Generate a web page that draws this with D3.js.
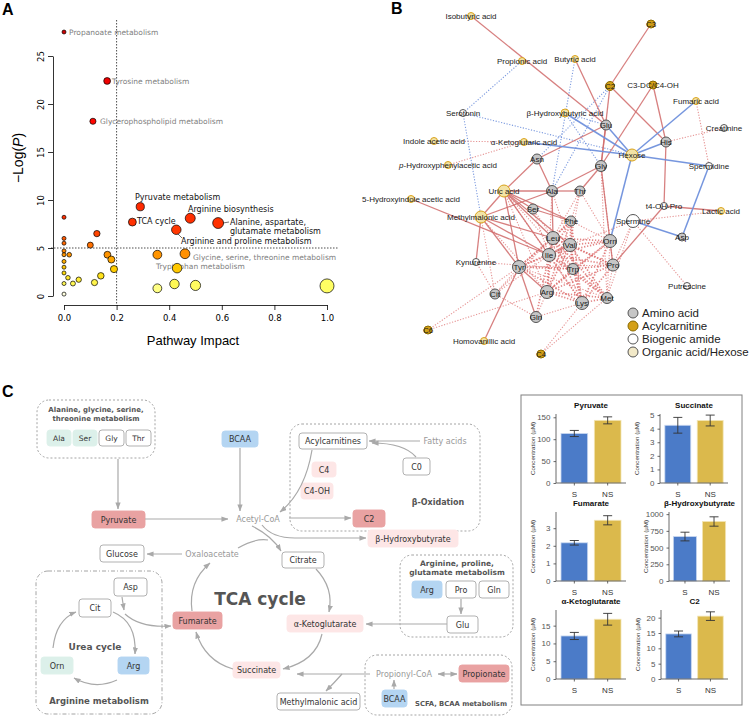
<!DOCTYPE html>
<html><head><meta charset="utf-8">
<script src="https://cdn.jsdelivr.net/npm/d3@7"></script>
<style>body{margin:0;background:#fff}svg{display:block}</style>
</head><body>
<svg id="fig" width="750" height="717" xmlns="http://www.w3.org/2000/svg"></svg>
<script>
// ================= DATA =================
// Panel A: pathway analysis
const pathwayNames = ["Propanoate metabolism","Tyrosine metabolism","Glycerophospholipid metabolism","Pyruvate metabolism","TCA cycle","Arginine biosynthesis","Arginine and proline metabolism","Alanine, aspartate, glutamate metabolism","Glycine, serine, threonine metabolism","Tryptophan metabolism","p11","p12","p13","p14","p15","p16","p17","p18","p19","p20","p21","p22","p23","p24","p25","p26","p27","p28","p29","p30","p31","p32","p33","p34","p35","p36"];
const pathwayImpact = [0,0.164,0.11,0.29,0.26,0.48,0.427,0.586,0.46,0.43,0.355,0.355,0.42,0.5,1.0,0,0,0,0,0,0,0,0,0,0,0.125,0.1,0.02,0.165,0.18,0.19,0.14,0.116,0.056,0.034,0.015];
const pathwayNegLogP = [27.5,22.4,18.2,9.3,7.7,8.1,6.9,7.6,4.4,2.9,4.3,0.8,1.25,1.1,1.05,8.2,6.0,5.5,4.7,4.3,3.6,3.0,2.4,1.3,0.2,6.5,5.3,4.3,4.3,3.8,2.8,2.1,1.4,1.7,1.3,1.9];
const aYTicks = [0,5,10,15,20,25];
const aXTicks = [0,0.2,0.4,0.6,0.8,1.0];
const impactCut = 0.2, negLogPCut = 5;

// Panel B: correlation network
const metaboliteNames = ["Isobutyric acid","C3","Propionic acid","Butyric acid","C2","C3-DC/C4-OH","Fumaric acid","β-Hydroxybutyric acid","Serotonin","Glu","Creatinine","Indole acetic acid","α-Ketoglutaric acid","His","Hexose","Asn","p-Hydroxyphenylacetic acid","Gly","Spermidine","Uric acid","Ala","Thr","5-Hydroxyindole acetic acid","t4-OH-Pro","Ser","Lactic acid","Methylmalonic acid","Phe","Spermine","Asp","Leu","Orn","Val","Ile","Kynurenine","Pro","Tyr","Trp","Putrescine","Arg","Cit","Met","Lys","Gln","C6","Homovanillic acid","C4"];
const metaboliteClass = ["org","acyl","org","org","acyl","acyl","org","org","bio","aa","bio","org","org","aa","org","aa","org","aa","bio","org","aa","aa","org","bio","aa","org","org","aa","bio","aa","aa","aa","aa","aa","bio","aa","aa","aa","bio","aa","aa","aa","aa","aa","acyl","org","acyl"];
const legendClasses = ["Amino acid","Acylcarnitine","Biogenic amide","Organic acid/Hexose"];
const positiveStrong = [["Isobutyric acid","Glu"],["C3","C2"],["Butyric acid","Glu"],["C2","His"],["C2","Gly"],["C3-DC/C4-OH","Gly"],["C3-DC/C4-OH","His"],["Glu","Asn"],["Glu","Gly"],["Asn","Ala"],["Asn","Uric acid"],["Gly","Ala"],["Gly","Thr"],["Gly","Orn"],["Uric acid","Ala"],["Uric acid","Ser"],["Uric acid","Leu"],["Uric acid","Ile"],["Uric acid","Tyr"],["Uric acid","Phe"],["Uric acid","Val"],["Uric acid","Methylmalonic acid"],["Methylmalonic acid","Kynurenine"],["Methylmalonic acid","Tyr"],["Methylmalonic acid","Leu"],["Methylmalonic acid","Ile"],["Methylmalonic acid","Ala"],["5-Hydroxyindole acetic acid","Ile"],["Tyr","Gln"],["Tyr","Arg"],["Homovanillic acid","Tyr"],["His","t4-OH-Pro"],["t4-OH-Pro","Lactic acid"],["Pro","t4-OH-Pro"],["Ala","Thr"],["Ser","Phe"],["Orn","Pro"],["Leu","Ile"],["Val","Ile"],["Ala","Leu"]];
const negativeStrong = [["β-Hydroxybutyric acid","Hexose"],["α-Ketoglutaric acid","Hexose"],["Fumaric acid","Hexose"],["His","Hexose"],["Glu","Hexose"],["Hexose","Spermidine"],["Hexose","Orn"],["Spermine","Asp"],["Spermidine","Asp"]];
const negativeWeak = [["Serotonin","Propionic acid"],["Serotonin","Methylmalonic acid"],["Serotonin","Hexose"],["β-Hydroxybutyric acid","Gly"],["β-Hydroxybutyric acid","Glu"],["C2","Ala"],["Butyric acid","Ala"],["C2","Asn"]];
const positiveWeak = [["Indole acetic acid","α-Ketoglutaric acid"],["p-Hydroxyphenylacetic acid","α-Ketoglutaric acid"],["Fumaric acid","Spermidine"],["Creatinine","His"],["Putrescine","Spermine"],["Kynurenine","Trp"],["Kynurenine","Cit"],["C6","Arg"],["C6","Tyr"],["C4","Lys"],["C4","Met"],["Cit","Ile"],["Cit","Leu"],["Gln","Arg"],["Gln","Lys"],["Thr","Leu"],["Thr","Val"],["Thr","Phe"],["Thr","Orn"],["Ala","Val"],["Ala","Ile"],["Ser","Leu"],["Ser","Ile"],["Uric acid","Arg"],["Uric acid","Trp"],["Uric acid","Lys"],["Methylmalonic acid","Arg"],["Methylmalonic acid","Cit"],["Spermine","Pro"],["Spermine","Met"],["Spermine","Val"],["Gly","Pro"],["Gly","Met"],["Lactic acid","Spermine"],["Cit","Gln"],["Tyr","Cit"],["Phe","Orn"],["Orn","Met"],["Pro","Met"],["Tyr","Met"],["Tyr","Pro"]];
const positiveWeakCore = [["Leu","Val"],["Leu","Phe"],["Leu","Trp"],["Leu","Arg"],["Leu","Lys"],["Leu","Met"],["Leu","Pro"],["Leu","Orn"],["Leu","Tyr"],["Ile","Trp"],["Ile","Arg"],["Ile","Lys"],["Ile","Met"],["Ile","Pro"],["Ile","Orn"],["Ile","Phe"],["Ile","Tyr"],["Ile","Gln"],["Val","Trp"],["Val","Arg"],["Val","Lys"],["Val","Met"],["Val","Pro"],["Val","Orn"],["Val","Phe"],["Val","Tyr"],["Phe","Trp"],["Phe","Tyr"],["Phe","Arg"],["Phe","Lys"],["Trp","Arg"],["Trp","Lys"],["Trp","Met"],["Trp","Pro"],["Trp","Tyr"],["Trp","Orn"],["Arg","Lys"],["Arg","Met"],["Arg","Pro"],["Arg","Orn"],["Lys","Met"],["Lys","Pro"],["Lys","Orn"],["Tyr","Lys"]];

// Panel C bar charts
const barMetabolites = ["Pyruvate","Succinate","Fumarate","β-Hydroxybutyrate","α-Ketoglutarate","C2"];
const barGroups = ["S","NS"];
const meanS  = [113, 4.25, 2.17, 665, 12.1, 14.7];
const meanNS = [143, 4.6, 3.45, 890, 16.8, 20.5];
const errS   = [7, 0.58, 0.13, 65, 1.0, 0.95];
const errNS  = [8, 0.4, 0.26, 70, 1.65, 1.4];
const barTicks = [[0,50,100,150],[0,1,2,3,4,5],[0,1,2,3],[0,250,500,750,1000],[0,5,10,15],[0,5,10,15,20]];
const barAxisMax = [157.5, 5.08, 3.92, 1032, 19.4, 22.5];

// ================= DRAW =================
const svg = d3.select("#fig");
svg.append("rect").attr("width",750).attr("height",717).attr("fill","#fff");
const SANS = "'Liberation Sans', Arial, sans-serif";
const DEJ = "'DejaVu Sans', Verdana, sans-serif";

[["A",2,15],["B",391,14],["C",2,397]].forEach(([t,x,y])=>{
  svg.append("text").attr("x",x).attr("y",y).text(t).attr("font-family",SANS).attr("font-weight","bold").attr("font-size",16).attr("fill","#000");
});

// ---------- Panel A ----------
(function(){
  const g = svg.append("g").attr("font-family",DEJ);
  const x = d3.scaleLinear().domain([0,1]).range([64,327]);
  const y = d3.scaleLinear().domain([0,25]).range([296,56]);
  const r = d3.scalePow().exponent(0.7).domain([0,1]).range([2,7]);
  const col = d3.scaleLinear().domain([0,1,2.5,4.5,7,20,28])
     .range(["#ffffff","#ffff66","#ffd700","#ff8c00","#ff3300","#ff0000","#cc0000"]);

  const yA = g.append("g").attr("transform","translate(53,0)")
    .call(d3.axisLeft(y).tickValues(aYTicks).tickSize(5).tickSizeOuter(0).tickFormat(d3.format("d")));
  yA.selectAll(".tick text").attr("transform","rotate(-90)").attr("x",0).attr("y",-9).attr("dy",0)
    .attr("text-anchor","middle").attr("font-size",8.5).attr("font-family",DEJ).attr("fill","#000");
  const xA = g.append("g").attr("transform","translate(0,305)")
    .call(d3.axisBottom(x).tickValues(aXTicks).tickSize(5).tickSizeOuter(0).tickFormat(d3.format(".1f")));
  xA.selectAll(".tick text").attr("font-size",8.5).attr("font-family",DEJ).attr("fill","#000").attr("dy","0.95em");
  [yA,xA].forEach(a=>{a.selectAll("path,line").attr("stroke","#000").attr("stroke-width",0.8);});

  g.append("line").attr("x1",x(impactCut)).attr("x2",x(impactCut)).attr("y1",20).attr("y2",305)
    .attr("stroke","#000").attr("stroke-width",0.7).attr("stroke-dasharray","1.5,1.5");
  g.append("line").attr("x1",51).attr("x2",338).attr("y1",y(negLogPCut)).attr("y2",y(negLogPCut))
    .attr("stroke","#000").attr("stroke-width",0.7).attr("stroke-dasharray","1.5,1.5");

  g.append("text").attr("x",193).attr("y",345).attr("text-anchor","middle").attr("font-family",SANS)
    .attr("font-size",13).text("Pathway Impact");
  const yl = g.append("text").attr("transform","translate(23,158) rotate(-90)").attr("text-anchor","middle")
    .attr("font-family",SANS).attr("font-size",14);
  yl.append("tspan").text("\u2212Log(");
  yl.append("tspan").attr("font-style","italic").text("P");
  yl.append("tspan").text(")");

  const aLabels = [
    {n:"Propanoate metabolism",x:69,y:32,dark:false},
    {n:"Tyrosine metabolism",x:112,y:81,dark:false},
    {n:"Glycerophospholipid metabolism",x:100,y:121,dark:false},
    {n:"Pyruvate metabolism",x:135,y:197,dark:true},
    {n:"TCA cycle",x:137,y:221,dark:true},
    {n:"Arginine biosynthesis",x:188,y:209,dark:true},
    {n:"Alanine, aspartate, glutamate metabolism",x:230,y:222,dark:true,lines:["Alanine, aspartate,","glutamate metabolism"],lead:[[223,223],[229,222]]},
    {n:"Arginine and proline metabolism",x:181,y:241,dark:true,lead:[[178,234],[182,238]]},
    {n:"Glycine, serine, threonine metabolism",x:193,y:257,dark:false},
    {n:"Tryptophan metabolism",x:156,y:266,dark:false}
  ];
  aLabels.forEach(L=>{
    const lines = L.lines || [L.n];
    const t = g.append("text").attr("x",L.x).attr("y",L.y+3).attr("font-size",L.dark?8:7.5)
      .attr("fill",L.dark?"#111":"#808080");
    lines.forEach((s,i)=>t.append("tspan").attr("x",L.x).attr("dy",i?9:0).text(s));
    if(L.lead) g.append("line").attr("x1",L.lead[0][0]).attr("y1",L.lead[0][1]).attr("x2",L.lead[1][0]).attr("y2",L.lead[1][1]).attr("stroke","#333").attr("stroke-width",0.7);
  });

  const pts = pathwayImpact.map((v,i)=>({imp:v,p:pathwayNegLogP[i]}));
  g.selectAll("circle.pt").data(pts).join("circle").attr("class","pt")
    .attr("cx",d=>x(d.imp)).attr("cy",d=>y(d.p)).attr("r",d=>r(d.imp))
    .attr("fill",d=>col(d.p)).attr("stroke","#000").attr("stroke-width",0.7);
})();

// ---------- Panel B ----------
(function(){
  const g = svg.append("g").attr("font-family",SANS);
  const layout = {
    "Isobutyric acid":[471,16,3.5],"C3":[651,24,4],"Propionic acid":[522,61,3.5],"Butyric acid":[575,59,3.5],
    "C2":[610,86,4.5],"C3-DC/C4-OH":[653,85,4],"Fumaric acid":[696,101,3.5],"β-Hydroxybutyric acid":[565,113,4],
    "Serotonin":[463,113,3.5],"Glu":[606,125,5],"Creatinine":[724,128,3.5],"Indole acetic acid":[434,141,3.5],
    "α-Ketoglutaric acid":[524,142,3.5],"His":[666,142,5],"Hexose":[632,155,6],"Asn":[537,159,5],
    "p-Hydroxyphenylacetic acid":[448,165,3.5],"Gly":[601,166,5.5],"Spermidine":[709,166,3.5],"Uric acid":[504,191,6],
    "Ala":[552,191,5.5],"Thr":[580,191,5],"5-Hydroxyindole acetic acid":[411,199,3.5],"t4-OH-Pro":[664,206,3.5],
    "Ser":[533,209,5],"Lactic acid":[721,211,3.5],"Methylmalonic acid":[481,217,6],"Phe":[571,221,5],
    "Spermine":[633,221,6.5],"Asp":[682,237,4],"Leu":[553,238,6.5],"Orn":[610,241,6.5],"Val":[570,245,6.5],
    "Ile":[549,255,6.5],"Kynurenine":[476,262,3.5],"Pro":[613,265,6],"Tyr":[519,267,6.5],"Trp":[573,269,5.5],
    "Putrescine":[687,286,3.5],"Arg":[547,292,6.5],"Cit":[495,294,5],"Met":[607,298,5.5],"Lys":[582,303,6.5],
    "Gln":[536,317,5.5],"C6":[428,330,4],"Homovanillic acid":[484,341,3.5],"C4":[541,354,4]
  };
  const sty = {aa:{f:"#c6c6c6",s:"#555"},acyl:{f:"#d4a017",s:"#8a6a00"},bio:{f:"#ffffff",s:"#555"},org:{f:"#f3e3a6",s:"#d9a21a"}};
  const edgeSets = [
    {d:positiveWeak,c:"#e07a7a",w:1.1,da:"1.2,1.6",o:0.8},
    {d:positiveWeakCore,c:"#dc6a6a",w:1.7,da:"1.3,1.7",o:0.8},
    {d:negativeWeak,c:"#6f90dc",w:1.1,da:"1.2,1.6",o:0.9},
    {d:positiveStrong,c:"#d06a6a",w:1.3,da:null,o:0.85},
    {d:negativeStrong,c:"#6f90dc",w:1.5,da:null,o:0.95}
  ];
  edgeSets.forEach(S=>{
    g.append("g").selectAll("line").data(S.d).join("line")
      .attr("x1",d=>layout[d[0]][0]).attr("y1",d=>layout[d[0]][1])
      .attr("x2",d=>layout[d[1]][0]).attr("y2",d=>layout[d[1]][1])
      .attr("stroke",S.c).attr("stroke-width",S.w).attr("stroke-opacity",S.o)
      .attr("stroke-dasharray",S.da);
  });
  const nodes = metaboliteNames.map((n,i)=>({n,c:metaboliteClass[i],x:layout[n][0],y:layout[n][1],r:layout[n][2]}));
  g.selectAll("circle.nd").data(nodes).join("circle").attr("class","nd")
    .attr("cx",d=>d.x).attr("cy",d=>d.y).attr("r",d=>d.r)
    .attr("fill",d=>sty[d.c].f).attr("stroke",d=>sty[d.c].s).attr("stroke-width",1);
  g.selectAll("text.nl").data(nodes).join("text").attr("class","nl")
    .attr("x",d=>d.x).attr("y",d=>d.y+3).attr("text-anchor","middle").attr("font-size",8).attr("fill","#1a1a1a")
    .each(function(d){
      const t=d3.select(this);
      if(d.n.startsWith("p-")){t.append("tspan").attr("font-style","italic").text("p");t.append("tspan").text(d.n.slice(1));}
      else t.text(d.n);
    });
  const lc = [sty.aa,sty.acyl,sty.bio,sty.org];
  const ly = d3.scalePoint().domain(legendClasses).range([313,352]);
  const lg = g.append("g");
  lg.selectAll("circle").data(legendClasses).join("circle").attr("cx",633).attr("cy",d=>ly(d)).attr("r",5)
    .attr("fill",(d,i)=>i===3?"#f2e9c8":lc[i].f).attr("stroke",(d,i)=>i===3?"#555":lc[i].s);
  lg.selectAll("text").data(legendClasses).join("text").attr("x",642).attr("y",d=>ly(d)+4)
    .attr("font-size",11.5).attr("fill","#222").text(d=>d);
})();

// ---------- Panel C diagram ----------
(function(){
  const g = svg.append("g").attr("font-family",DEJ);
  const defs = svg.append("defs");
  defs.append("marker").attr("id","ah").attr("viewBox","0 0 8 6").attr("refX",7.5).attr("refY",3)
    .attr("markerWidth",7).attr("markerHeight",5.5).attr("markerUnits","userSpaceOnUse").attr("orient","auto-start-reverse")
    .append("path").attr("d","M0,0 L8,3 L0,6 Z").attr("fill","#a9a9a9");

  const groups = [
    {x:37,y:400,w:118,h:58,da:"2,2"},
    {x:290,y:424,w:190,h:107,da:"2,2"},
    {x:400,y:555,w:113,h:82,da:"2,2"},
    {x:36,y:571,w:126,h:143,da:"4,2,1,2"},
    {x:365,y:655,w:147,h:60,da:"2,2"}
  ];
  g.selectAll("rect.grp").data(groups).join("rect").attr("class","grp")
    .attr("x",d=>d.x).attr("y",d=>d.y).attr("width",d=>d.w).attr("height",d=>d.h).attr("rx",12)
    .attr("fill","none").attr("stroke","#9a9a9a").attr("stroke-width",0.9).attr("stroke-dasharray",d=>d.da);

  const fills = {red:["#e9a2a2","#e9a2a2"],pink:["#fde6e6","#fde6e6"],blue:["#b4d5f2","#b4d5f2"],teal:["#dcf0ea","#dcf0ea"],white:["#ffffff","#a8a8a8"]};
  const boxes = [
    ["Ala","teal",47,430,24,16,7.5],["Ser","teal",73,430,24,16,7.5],["Gly","white",99,430,25,16,7.5],["Thr","white",126,430,25,16,7.5],
    ["BCAA","blue",222,431,36,16,8],["Pyruvate","red",92,511,53,17,8],["Acylcarnitines","white",299,433,68,16,8],
    ["C0","white",403,458,27,17,8],["C4","pink",312,462,24,15,8],["C4-OH","pink",301,483,32,16,8],["C2","red",353,510,32,17,8],
    ["β-Hydroxybutyrate","pink",368,530,90,17,8],["Glucose","white",100,545,44,17,8],["Citrate","white",282,552,42,16,8],
    ["Arg","blue",412,581,30,17,8],["Pro","white",446,581,30,17,8],["Gln","white",479,581,30,17,8],["Glu","white",447,616,31,17,8],
    ["α-Ketoglutarate","pink",287,615,76,17,8],["Fumarate","red",173,612,49,17,8],["Succinate","pink",233,662,47,16,8],
    ["Asp","white",114,578,33,18,8],["Cit","white",79,599,32,18,8],["Orn","teal",41,657,32,17,8],["Arg","blue",118,657,31,17,8],
    ["Propionate","red",459,665,50,17,8],["BCAA","blue",382,690,25,17,8],["Methylmalonic acid","white",277,693,83,17,8]
  ];
  const bg = g.selectAll("g.box").data(boxes).join("g").attr("class","box");
  bg.append("rect").attr("x",d=>d[2]).attr("y",d=>d[3]).attr("width",d=>d[4]).attr("height",d=>d[5]).attr("rx",3)
    .attr("fill",d=>fills[d[1]][0]).attr("stroke",d=>fills[d[1]][1]).attr("stroke-width",0.9);
  bg.append("text").attr("x",d=>d[2]+d[4]/2).attr("y",d=>d[3]+d[5]/2+3).attr("text-anchor","middle")
    .attr("font-size",d=>d[6]).attr("fill","#333").text(d=>d[0]);

  const txt = [
    ["Alanine, glycine, serine,",96,412,7,"#555","bold","middle"],["threonine metabolism",96,421,7,"#555","bold","middle"],
    ["Acetyl-CoA",258,522,8,"#999","normal","middle"],["Fatty acids",445,444,8,"#999","normal","middle"],
    ["β-Oxidation",438,505,8,"#555","bold","middle"],["Oxaloacetate",212,557,8,"#999","normal","middle"],
    ["TCA cycle",260,605,17,"#555","bold","middle"],["Arginine, proline,",457,566,7.5,"#555","bold","middle"],
    ["glutamate metabolism",457,575,7.5,"#555","bold","middle"],["Urea cycle",95,650,9,"#555","bold","middle"],
    ["Arginine metabolism",99,704,8.5,"#555","bold","middle"],["Propionyl-CoA",404,677,8,"#999","normal","middle"],
    ["SCFA, BCAA metabolism",415,706,6.8,"#555","bold","start"]
  ];
  g.selectAll("text.lab").data(txt).join("text").attr("class","lab").attr("x",d=>d[1]).attr("y",d=>d[2])
    .attr("text-anchor",d=>d[6]).attr("font-size",d=>d[3]).attr("fill",d=>d[4]).attr("font-weight",d=>d[5]).text(d=>d[0]);

  const arrows = [
    "M118,459 L118,509","M145,519 L228,519","M240,448 L240,511","M420,441 L369,441","M416,457 Q404,443 372,443",
    "M312,450 Q305,492 280,512","M289,518 L351,518","M262,525 Q272,538 295,538 L366,538","M252,526 Q272,536 281,551",
    "M316,569 Q334,588 329,612","M322,634 Q316,661 283,669","M233,669 Q205,661 196,632","M192,611 Q188,582 210,563",
    "M182,554 L147,554","M447,624 L366,624","M461,599 L461,614","M370,674 L297,674","M342,674 Q335,682 326,691",
    "M394,689 L394,680","M122,597 L124,610","M125,614 Q140,628 171,626","M113,612 Q137,622 135,654",
    "M117,680 Q95,690 74,678","M53,648 Q56,620 76,612"
  ];
  g.selectAll("path.arr").data(arrows).join("path").attr("class","arr").attr("d",d=>d)
    .attr("fill","none").attr("stroke","#a9a9a9").attr("stroke-width",1.2).attr("marker-end","url(#ah)");
  g.append("path").attr("d","M238,548 Q255,538 268,540").attr("fill","none").attr("stroke","#a9a9a9").attr("stroke-width",1.2);
  g.append("path").attr("d","M438,674 L457,674").attr("fill","none").attr("stroke","#a9a9a9").attr("stroke-width",1.2)
    .attr("marker-end","url(#ah)").attr("marker-start","url(#ah)");
})();

// ---------- Panel C bars ----------
(function(){
  const g = svg.append("g").attr("font-family",SANS);
  g.append("rect").attr("x",521).attr("y",395).attr("width",221).attr("height",310).attr("fill","#fff")
    .attr("stroke","#808080").attr("stroke-width",1);
  const lay = [
    {ax:556,xe:626,yt:405},{ax:660,xe:728,yt:405},
    {ax:556,xe:626,yt:503},{ax:669,xe:730,yt:503},
    {ax:556,xe:626,yt:601},{ax:661,xe:728,yt:601}
  ];
  barMetabolites.forEach((m,i)=>{
    const L = lay[i];
    const y0 = L.yt+78, top = L.yt+9;
    const y = d3.scaleLinear().domain([0,barAxisMax[i]]).range([y0,top]);
    const x = d3.scaleBand().domain(barGroups).range([L.ax,L.xe]).paddingInner(0.2).paddingOuter(0.15);
    const vals = [{g:"S",v:meanS[i],e:errS[i]},{g:"NS",v:meanNS[i],e:errNS[i]}];
    g.append("g").selectAll("rect").data(vals).join("rect")
      .attr("x",d=>x(d.g)).attr("y",d=>y(d.v)).attr("width",x.bandwidth()).attr("height",d=>y(0)-y(d.v))
      .attr("fill",d=>d.g==="S"?"#4b7bc8":"#dbb94c").attr("stroke",d=>d.g==="S"?"#c9d8f0":"#f3e5b5").attr("stroke-width",0.8);
    const eb = g.append("g").attr("stroke","#333").attr("stroke-width",0.9);
    vals.forEach(d=>{
      const cx = x(d.g)+x.bandwidth()/2;
      eb.append("line").attr("x1",cx).attr("x2",cx).attr("y1",y(d.v-d.e)).attr("y2",y(d.v+d.e));
      eb.append("line").attr("x1",cx-4.5).attr("x2",cx+4.5).attr("y1",y(d.v-d.e)).attr("y2",y(d.v-d.e));
      eb.append("line").attr("x1",cx-4.5).attr("x2",cx+4.5).attr("y1",y(d.v+d.e)).attr("y2",y(d.v+d.e));
    });
    const ya = g.append("g").attr("transform",`translate(${L.ax},0)`)
      .call(d3.axisLeft(y).tickValues(barTicks[i]).tickSize(2.5).tickSizeOuter(0).tickFormat(d3.format("d")));
    const xa = g.append("g").attr("transform",`translate(0,${y0})`)
      .call(d3.axisBottom(x).tickSize(2.5).tickSizeOuter(0));
    [ya,xa].forEach(a=>{a.selectAll("path,line").attr("stroke","#444").attr("stroke-width",0.8);
      a.selectAll("text").attr("font-family",SANS).attr("font-size",8).attr("fill","#555");});
    ya.select("path").attr("d",`M0,${y0}V${top}`);
    xa.select("path").attr("d",`M${L.ax},0H${L.xe}`);
    xa.selectAll("text").attr("fill","#333").attr("dy","1.1em");
    g.append("text").attr("x",(L.ax+L.xe)/2).attr("y",L.yt+3).attr("text-anchor","middle")
      .attr("font-size",8).attr("font-weight","bold").attr("fill","#111").text(m);
    g.append("text").attr("transform",`translate(${L.ax-21},${(y0+top)/2}) rotate(-90)`)
      .attr("text-anchor","middle").attr("font-size",6.2).attr("fill","#333").text("Concentration (\u00b5M)");
  });
})();
</script>
</body></html>
